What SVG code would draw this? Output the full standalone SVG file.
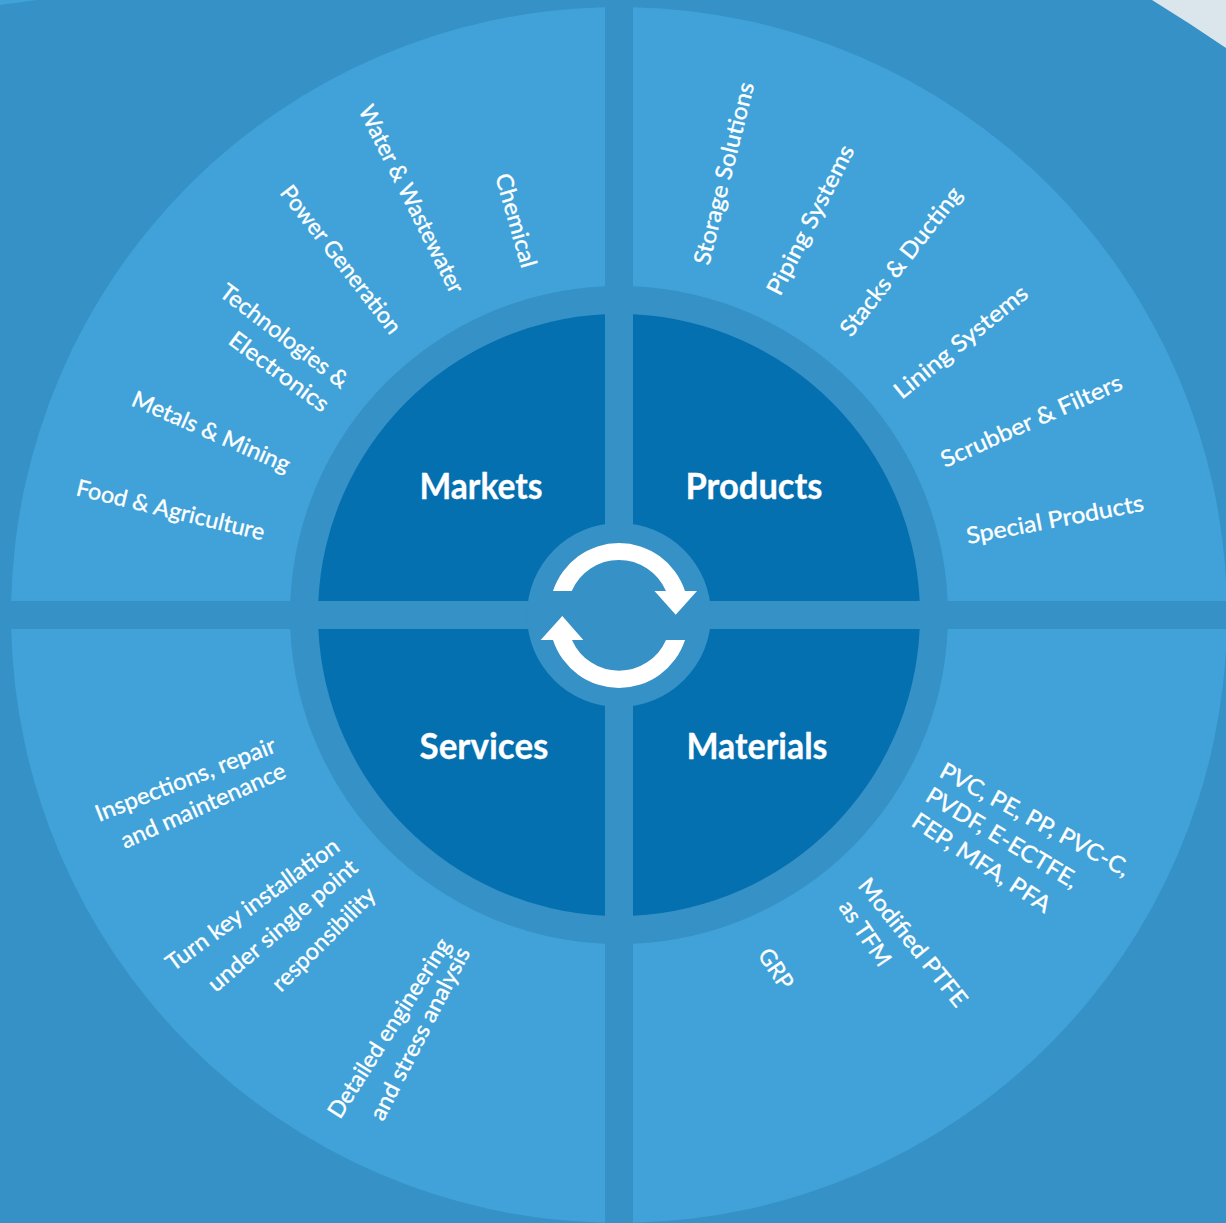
<svg xmlns="http://www.w3.org/2000/svg" width="1226" height="1223" viewBox="0 0 1226 1223">
<style>
.bg{fill:#3591c6}.light{fill:#40a2d8}.dark{fill:#0470b0}.white{fill:#fff}
text{font-family:"Lato","Liberation Sans",sans-serif;fill:#fff}
.t{font-size:37px;font-weight:700;stroke:#fff;stroke-width:.3px}
.s{font-size:23px;font-weight:400;stroke:#fff;stroke-width:.35px}
</style>
<rect class="bg" width="1226" height="1223"/>
<path fill="#dbe5ec" d="M1152 0L1190 24L1226 48V0Z"/>
<path class="light" d="M0 0H38L0 5Z"/>
<g id="products">
<path class="light" d="M633 286.3V7.16A608 608 0 0 1 1226.84 601H947.7A329 329 0 0 0 633 286.3Z"/>
<path class="dark" d="M633 601V314.33A301 301 0 0 1 919.67 601Z"/>
<text class="t" x="685.5" y="499" textLength="137" lengthAdjust="spacingAndGlyphs">Products</text>
<text class="s" transform="translate(709 266) rotate(-76)" textLength="187" lengthAdjust="spacingAndGlyphs">Storage Solutions</text>
<text class="s" transform="translate(780 297) rotate(-63)" textLength="165" lengthAdjust="spacingAndGlyphs">Piping Systems</text>
<text class="s" transform="translate(851 338) rotate(-52)" textLength="182" lengthAdjust="spacingAndGlyphs">Stacks &amp; Ducting</text>
<text class="s" transform="translate(901.7 400) rotate(-39)" textLength="165" lengthAdjust="spacingAndGlyphs">Lining Systems</text>
<text class="s" transform="translate(945 468) rotate(-24)" textLength="196" lengthAdjust="spacingAndGlyphs">Scrubber &amp; Filters</text>
<text class="s" transform="translate(968 544) rotate(-10.7)" textLength="180" lengthAdjust="spacingAndGlyphs">Special Products</text>
</g>
<g id="markets">
<path class="light" d="M605 286.3V7.16A608 608 0 0 0 11.16 601H290.3A329 329 0 0 1 605 286.3Z"/>
<path class="dark" d="M605 601V314.33A301 301 0 0 0 318.33 601Z"/>
<text class="t" x="419.5" y="499" textLength="123" lengthAdjust="spacingAndGlyphs">Markets</text>
<text class="s" transform="translate(495 176) rotate(74)" textLength="97" lengthAdjust="spacingAndGlyphs">Chemical</text>
<text class="s" transform="translate(358 110) rotate(63.4)" textLength="207" lengthAdjust="spacingAndGlyphs">Water &amp; Wastewater</text>
<text class="s" transform="translate(279 193) rotate(52)" textLength="181" lengthAdjust="spacingAndGlyphs">Power Generation</text>
<text class="s" transform="translate(218 295) rotate(37.5)" textLength="155" lengthAdjust="spacingAndGlyphs">Technologies &amp;</text>
<text class="s" transform="translate(227 343) rotate(36.5)" textLength="118" lengthAdjust="spacingAndGlyphs">Electronics</text>
<text class="s" transform="translate(130 405) rotate(23.5)" textLength="170" lengthAdjust="spacingAndGlyphs">Metals &amp; Mining</text>
<text class="s" transform="translate(75 495) rotate(13.6)" textLength="193" lengthAdjust="spacingAndGlyphs">Food &amp; Agriculture</text>
</g>
<g id="services">
<path class="light" d="M605 943.7V1222.84A608 608 0 0 1 11.16 629H290.3A329 329 0 0 0 605 943.7Z"/>
<path class="dark" d="M605 629V915.67A301 301 0 0 1 318.33 629Z"/>
<text class="t" x="419.5" y="759" textLength="129" lengthAdjust="spacingAndGlyphs">Services</text>
<text class="s" transform="translate(99 822) rotate(-21.5)" textLength="192" lengthAdjust="spacingAndGlyphs">Inspections, repair</text>
<text class="s" transform="translate(125 849) rotate(-24)" textLength="178" lengthAdjust="spacingAndGlyphs">and maintenance</text>
<text class="s" transform="translate(173 972) rotate(-36)" textLength="208" lengthAdjust="spacingAndGlyphs">Turn key installation</text>
<text class="s" transform="translate(216 993) rotate(-40.7)" textLength="189" lengthAdjust="spacingAndGlyphs">under single point</text>
<text class="s" transform="translate(281 993) rotate(-45)" textLength="136" lengthAdjust="spacingAndGlyphs">responsibility</text>
<text class="s" transform="translate(340 1120) rotate(-57.5)" textLength="208" lengthAdjust="spacingAndGlyphs">Detailed engineering</text>
<text class="s" transform="translate(383 1122) rotate(-62.7)" textLength="191" lengthAdjust="spacingAndGlyphs">and stress analysis</text>
</g>
<g id="materials">
<path class="light" d="M633 943.7V1222.84A608 608 0 0 0 1226.84 629H947.7A329 329 0 0 1 633 943.7Z"/>
<path class="dark" d="M633 629V915.67A301 301 0 0 0 919.67 629Z"/>
<text class="t" x="686.5" y="759" textLength="141" lengthAdjust="spacingAndGlyphs">Materials</text>
<text class="s" transform="translate(938 776) rotate(28.5)" textLength="212" lengthAdjust="spacingAndGlyphs">PVC, PE, PP, PVC-C,</text>
<text class="s" transform="translate(924 800) rotate(31)" textLength="173" lengthAdjust="spacingAndGlyphs">PVDF, E-ECTFE,</text>
<text class="s" transform="translate(910 825) rotate(33.4)" textLength="161" lengthAdjust="spacingAndGlyphs">FEP, MFA, PFA</text>
<text class="s" transform="translate(857 886) rotate(51)" textLength="158" lengthAdjust="spacingAndGlyphs">Modified PTFE</text>
<text class="s" transform="translate(838 907) rotate(56)" textLength="74" lengthAdjust="spacingAndGlyphs">as TFM</text>
<text class="s" transform="translate(757 955) rotate(56)" textLength="44" lengthAdjust="spacingAndGlyphs">GRP</text>
</g>
<g id="cycle">
<circle class="bg" cx="619" cy="615" r="92"/>
<path class="white" d="M553 591A69.4 69.4 0 0 1 685 591L675 602L666 591A51.3 51.3 0 0 0 571.7 591Z"/>
<path class="white" d="M654.5 591H697L675.7 614.7Z"/>
<path class="white" d="M685 640A69.4 69.4 0 0 1 553 640L562 628L572 640A51.3 51.3 0 0 0 666 640Z"/>
<path class="white" d="M583.3 640H540.7L562.3 616Z"/>
</g>
</svg>
